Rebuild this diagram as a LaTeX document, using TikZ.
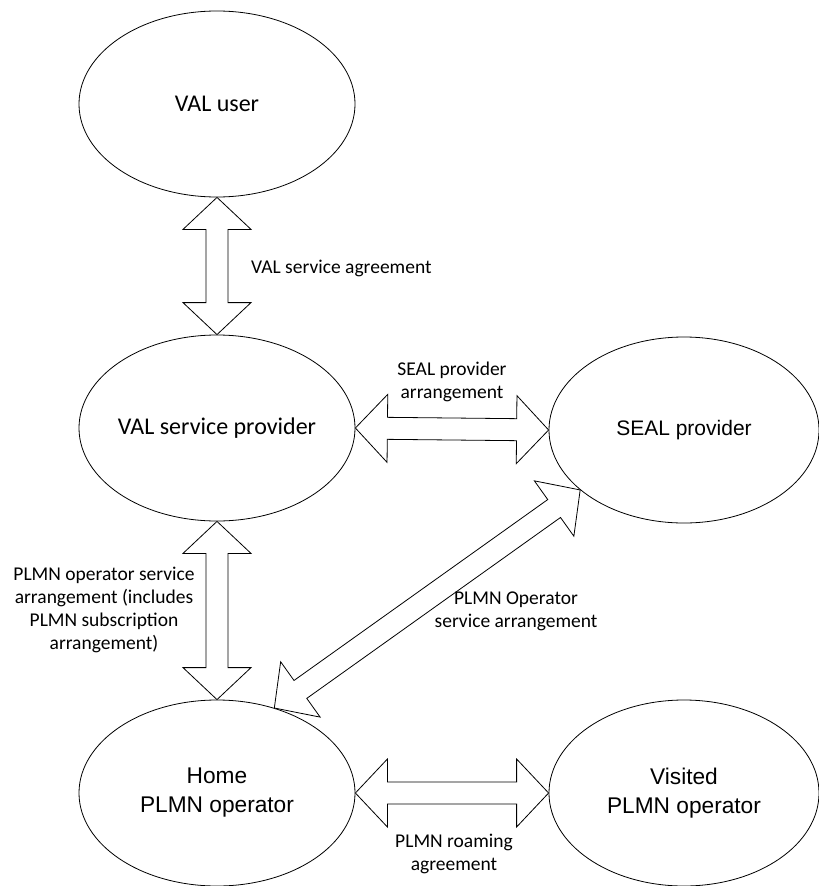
\documentclass[tikz,border=0pt]{standalone}
\usepackage{fontspec}
\setmainfont{Carlito}
\newfontfamily\arialfont{Liberation Sans}
\usetikzlibrary{calc}
\usetikzlibrary{shapes.geometric}

\newcommand{\headlen}{32pt}
\newcommand{\headhalf}{34pt}
\newcommand{\shafthalf}{11pt}

% arguments: name, from, to
\newcommand{\dealarrow}[3]{%
\coordinate (#1p) at ($(#2)!\headlen!(#3)$) ;
\coordinate (#1q) at ($(#3)!\headlen!(#2)$) ;
\draw [dealline] (#2)
	-- ($(#1p)!\headhalf!90:(#3)$) -- ($(#1p)!\shafthalf!90:(#3)$)
	-- ($(#1q)!\shafthalf!90:(#3)$) -- ($(#1q)!\headhalf!90:(#3)$)
	-- (#3)
	-- ($(#1q)!\headhalf!-90:(#3)$) -- ($(#1q)!\shafthalf!-90:(#3)$)
	-- ($(#1p)!\shafthalf!-90:(#3)$) -- ($(#1p)!\headhalf!-90:(#3)$)
	-- cycle ;
}

\tikzset{%
party/.style={ellipse, draw, line width=0.8pt, minimum width=276pt, minimum height=186pt, inner sep=0pt, align=center, font=\fontsize{24}{29}\selectfont},
operator/.style={party, font=\arialfont\fontsize{22.7}{29}\selectfont},
dealline/.style={line width=0.8pt, line join=miter, fill=white},
deallabel/.style={align=center, inner sep=0pt, font=\fontsize{19.5}{23}\selectfont}%
}

\begin{document}
\begin{tikzpicture}[x=1pt, y=-1pt]

\useasboundingbox (0, 0) rectangle (819, 886) ;

% parties
\node [party] (valuser) at (217, 104) {VAL user} ;
\node [party, inner xsep=-6pt] (valsp) at (217, 428) {VAL service provider} ;
\node [party, minimum width=270pt, font=\arialfont\fontsize{21}{25}\selectfont] (seal) at (684, 430) {SEAL provider} ;
\node [operator] (home) at (217, 793) {Home\\PLMN operator} ;
\node [operator, minimum width=270pt] (visited) at (684, 793) {Visited\\PLMN operator} ;

% agreements

\dealarrow{usersp}{valuser.south}{valsp.north}
\node [deallabel, anchor=west] (userlbl) at (251, 268) {VAL service agreement} ;

\dealarrow{spseal}{valsp.east}{seal.west}
\node [deallabel] (seallbl) at (452, 382) {SEAL provider\\arrangement} ;

\dealarrow{sphome}{valsp.south}{home.north}
\node [deallabel] (homelbl) at (104, 610) {PLMN operator service\\arrangement (includes\\PLMN subscription\\arrangement)} ;

\dealarrow{homeseal}{home.56}{seal.210}
\node [deallabel] (diaglbl) at (516, 611) {PLMN Operator\\service arrangement} ;

\dealarrow{roam}{home.east}{visited.west}
\node [deallabel] (roamlbl) at (454, 854) {PLMN roaming\\agreement} ;

\end{tikzpicture}
\end{document}
